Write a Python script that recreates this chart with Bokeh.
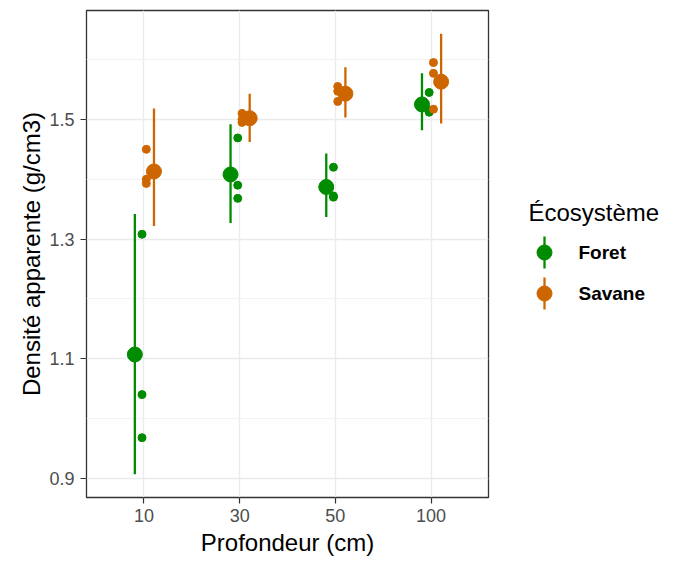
from bokeh.plotting import figure
from bokeh.models import FactorRange, Range1d, FixedTicker, ColumnDataSource
from bokeh.transform import dodge
from bokeh.layouts import row
from bokeh.core.properties import value
from bokeh.embed import file_html
from bokeh.resources import INLINE

# ---------------- data ----------------
prof = ["10", "30", "50", "100"]

foret_mean = [1.107, 1.408, 1.387, 1.525]
foret_low = [0.907, 1.327, 1.337, 1.482]
foret_high = [1.342, 1.492, 1.443, 1.577]

savane_mean = [1.413, 1.502, 1.543, 1.563]
savane_low = [1.322, 1.462, 1.503, 1.493]
savane_high = [1.518, 1.543, 1.587, 1.643]

foret_obs_prof = ["10", "10", "10", "30", "30", "30", "50", "50", "50", "100", "100", "100"]
foret_obs = [1.308, 1.040, 0.968, 1.469, 1.390, 1.368, 1.420, 1.372, 1.370, 1.545, 1.512, 1.515]

savane_obs_prof = ["10", "10", "10", "30", "30", "30", "50", "50", "50", "100", "100", "100"]
savane_obs = [1.450, 1.400, 1.393, 1.510, 1.500, 1.495, 1.555, 1.530, 1.547, 1.595, 1.577, 1.517]

y_ticks = [0.9, 1.1, 1.3, 1.5]
y_minor = [1.0, 1.2, 1.4, 1.6]

groups = ["Foret", "Savane"]
colors = ["#008B00", "#CD6600"]

FONT = "Liberation Sans"
BORDER_TOP, BORDER_BOTTOM = 10, 65
HEIGHT = 562

# ---------------- main plot ----------------
p = figure(width=490, height=HEIGHT,
           x_range=FactorRange(*prof, range_padding=0.05),
           y_range=Range1d(0.868, 1.682),
           output_backend="svg", toolbar_location=None,
           min_border_left=86, min_border_right=2,
           min_border_top=BORDER_TOP, min_border_bottom=BORDER_BOTTOM,
           background_fill_color="white", border_fill_color="white")

p.outline_line_color = "#333333"
p.outline_line_width = 1.3

p.yaxis.ticker = FixedTicker(ticks=y_ticks, minor_ticks=y_minor)
p.ygrid.grid_line_color = "#EBEBEB"
p.ygrid.grid_line_width = 1.3
p.ygrid.minor_grid_line_color = "#F2F2F2"
p.ygrid.minor_grid_line_width = 1
p.xgrid.grid_line_color = "#EBEBEB"
p.xgrid.grid_line_width = 1.3

for ax in (p.xaxis[0], p.yaxis[0]):
    ax.axis_line_color = None
    ax.major_tick_line_color = "#333333"
    ax.major_tick_line_width = 1.2
    ax.major_tick_out = 6
    ax.major_tick_in = 0
    ax.minor_tick_line_color = None
    ax.major_label_text_font = FONT
    ax.major_label_text_font_size = "18px"
    ax.major_label_text_color = "#4D4D4D"
    ax.axis_label_text_font = FONT
    ax.axis_label_text_font_size = "24px"
    ax.axis_label_text_font_style = "normal"
    ax.axis_label_text_color = "black"

p.xaxis.axis_label = "Profondeur (cm)"
p.yaxis.axis_label = "Densité apparente (g/cm3)"
p.xaxis.major_label_standoff = 5
p.xaxis.axis_label_standoff = 4
p.yaxis.major_label_standoff = 6
p.yaxis.axis_label_standoff = 1

src_f = ColumnDataSource(dict(prof=prof, mean=foret_mean, low=foret_low, high=foret_high))
src_s = ColumnDataSource(dict(prof=prof, mean=savane_mean, low=savane_low, high=savane_high))
obs_f = ColumnDataSource(dict(prof=foret_obs_prof, val=foret_obs))
obs_s = ColumnDataSource(dict(prof=savane_obs_prof, val=savane_obs))

for src, off, col in ((src_f, -0.095, colors[0]), (src_s, 0.105, colors[1])):
    xd = dodge("prof", off, range=p.x_range)
    p.segment(x0=xd, y0="low", x1=xd, y1="high", source=src,
              line_color=col, line_width=2.3)
    p.scatter(x=xd, y="mean", source=src, size=15,
              fill_color=col, line_color=col)

for src, off, col in ((obs_f, -0.02, colors[0]), (obs_s, 0.025, colors[1])):
    p.scatter(x=dodge("prof", off, range=p.x_range), y="val", source=src,
              size=8, fill_color=col, line_color=col)

# ---------------- legend panel (pixel coordinates) ----------------
leg = figure(width=191, height=HEIGHT,
             x_range=Range1d(0, 191),
             y_range=Range1d(HEIGHT - BORDER_BOTTOM, BORDER_TOP),
             output_backend="svg", toolbar_location=None,
             min_border_left=0, min_border_right=0,
             min_border_top=BORDER_TOP, min_border_bottom=BORDER_BOTTOM,
             x_axis_location=None, y_axis_location=None,
             outline_line_color=None, background_fill_color="white",
             border_fill_color="white")
leg.grid.visible = False

leg.text(x=[38], y=[212], text=["Écosystème"], text_font=value(FONT),
         text_font_size="24px", text_baseline="middle", text_align="left",
         text_color="black")

key_x = [54 for _ in groups]
key_y = [252 + 41 * i for i in range(len(groups))]
leg.segment(x0=key_x, y0=[y - 16 for y in key_y], x1=key_x, y1=[y + 16 for y in key_y],
            line_color=colors, line_width=2.3)
leg.scatter(x=key_x, y=key_y, size=15, fill_color=colors, line_color=colors)
leg.text(x=[88 for _ in groups], y=key_y, text=groups, text_font=value(FONT),
         text_font_size="19px", text_font_style="bold", text_baseline="middle",
         text_align="left", text_color="black")

layout = row(p, leg)
open("out.html", "w").write(file_html(layout, INLINE))
